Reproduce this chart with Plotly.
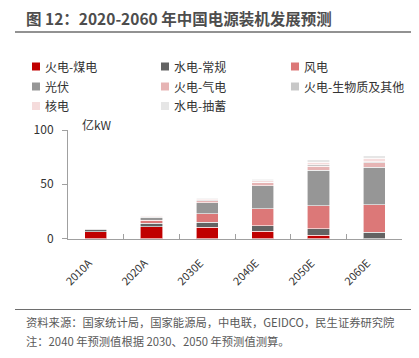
import plotly.graph_objects as go

years = ["2010A", "2020A", "2030E", "2040E", "2050E", "2060E"]
series_names = ["火电-煤电", "水电-常规", "风电", "光伏", "火电-气电", "火电-生物质及其他", "核电", "水电-抽蓄"]
coal = [6.3, 10.8, 10.5, 6.8, 2.8, 0.0]
hydro = [2.2, 3.4, 4.4, 4.9, 6.2, 5.8]
wind = [0.3, 2.8, 8.0, 15.7, 21.4, 25.2]
solar = [0.03, 2.5, 9.9, 21.0, 32.5, 34.7]
gas = [0.3, 1.0, 2.2, 2.8, 3.7, 4.0]
bio = [0.1, 0.3, 0.6, 0.8, 1.2, 1.2]
nuclear = [0.1, 0.5, 1.1, 1.4, 2.5, 3.0]
pumped = [0.2, 0.3, 0.8, 1.4, 2.5, 2.5]
colors = ["#C00000", "#636363", "#DC7878", "#969696", "#E6B4B4", "#C8C8C8", "#F5DCDC", "#E6E6E6"]
y_ticks = [0, 50, 100]

# page body has an 8px default margin: figure is offset by (8, 8) in the window
OFF = 8
W, H = 411, 342
FONT = "Noto Sans CJK SC"
fig = go.Figure()
for name, vals, col in zip(series_names, [coal, hydro, wind, solar, gas, bio, nuclear, pumped], colors):
    fig.add_trace(go.Bar(x=years, y=vals, name=name, marker=dict(color=col, line=dict(color="rgba(255,255,255,0.85)", width=0.7)), showlegend=False))

def px_x(x):
    return (x - OFF) / W

def px_y(y):
    return 1 - (y - OFF) / H

fig.update_layout(
    width=W, height=H, margin=dict(l=0, r=0, t=0, b=0, autoexpand=False),
    paper_bgcolor="white", plot_bgcolor="white",
    barmode="stack", bargap=0.6,
    font=dict(family=FONT, size=12, color="#333333"),
    xaxis=dict(domain=[px_x(68), px_x(402)], showline=True, linecolor="#A0A0A0", linewidth=1, automargin=False,
               ticks="inside", ticklen=5, tickcolor="#A0A0A0", tickson="boundaries",
               tickangle=-45, tickfont=dict(size=11, color="#333333"), ticklabelstandoff=13, ticklabelshift=-7,
               showgrid=False),
    yaxis=dict(domain=[px_y(238.5), px_y(130)], range=[0, 100], tickvals=y_ticks, showline=True, automargin=False,
               linecolor="#A0A0A0", linewidth=1, ticks="outside", ticklen=5, tickcolor="#A0A0A0",
               showgrid=False, zeroline=False, tickfont=dict(size=12, color="#333333"), ticklabelstandoff=6),
)

annotations = []
shapes = []
# Title
annotations.append(dict(text="<b>图 12：2020-2060 年中国电源装机发展预测</b>", x=px_x(24), y=px_y(18.5), xref="paper", yref="paper",
                        xanchor="left", yanchor="middle", showarrow=False, font=dict(size=15.5, color="#4D4D4D", family=FONT)))
shapes.append(dict(type="line", xref="paper", yref="paper", x0=px_x(15), x1=1, y0=px_y(32), y1=px_y(32), line=dict(color="#6E6E6E", width=1.5)))
# Legend
col_x = [32, 161, 291]
row_y = [66.5, 86.5, 106]
for i, (name, col) in enumerate(zip(series_names, colors)):
    r, c = divmod(i, 3)
    x0 = col_x[c]
    yc = row_y[r]
    shapes.append(dict(type="rect", xref="paper", yref="paper", x0=px_x(x0), x1=px_x(x0 + 8), y0=px_y(yc + 4), y1=px_y(yc - 4),
                       fillcolor=col, line=dict(width=0)))
    annotations.append(dict(text=name, x=px_x(x0 + 11), y=px_y(yc), xref="paper", yref="paper", xanchor="left", yanchor="middle",
                            showarrow=False, font=dict(size=12, color="#333333", family=FONT)))
# Unit
annotations.append(dict(text="亿kW", x=px_x(80), y=px_y(124), xref="paper", yref="paper", xanchor="left", yanchor="middle",
                        showarrow=False, font=dict(size=12, color="#333333", family=FONT)))
# Bottom source
shapes.append(dict(type="line", xref="paper", yref="paper", x0=px_x(15), x1=1, y0=px_y(309.5), y1=px_y(309.5), line=dict(color="#6E6E6E", width=1.2)))
annotations.append(dict(text="资料来源：国家统计局，国家能源局，中电联，GEIDCO，民生证券研究院", x=px_x(24), y=px_y(322), xref="paper", yref="paper",
                        xanchor="left", yanchor="middle", showarrow=False, font=dict(size=11.3, color="#595959", family=FONT)))
annotations.append(dict(text="注：2040 年预测值根据 2030、2050 年预测值测算。", x=px_x(24), y=px_y(341), xref="paper", yref="paper",
                        xanchor="left", yanchor="middle", showarrow=False, font=dict(size=11.3, color="#595959", family=FONT)))

fig.update_layout(annotations=annotations, shapes=shapes)
fig.write_html("out.html")
